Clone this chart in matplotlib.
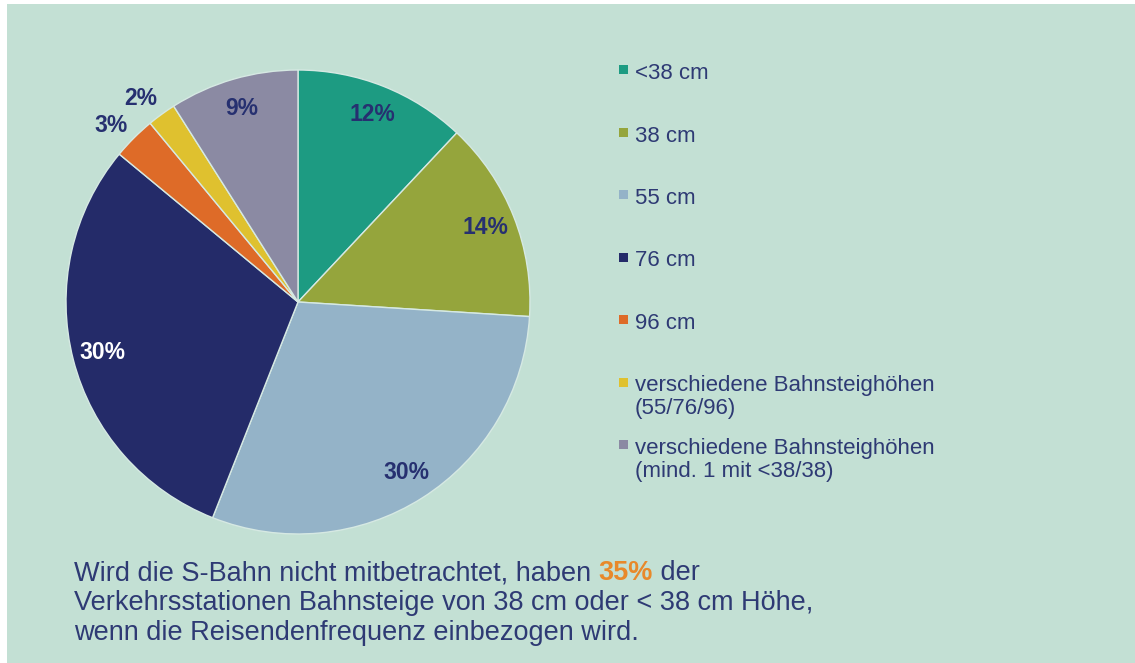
import matplotlib
matplotlib.use('Agg')
import matplotlib.pyplot as plt
import numpy as np
from matplotlib.patches import Rectangle

plt.rcParams['font.family'] = ['Liberation Sans', 'DejaVu Sans']

# platform heights, share of stations (%)
categories = [
    "<38 cm",
    "38 cm",
    "55 cm",
    "76 cm",
    "96 cm",
    "verschiedene Bahnsteighöhen\n(55/76/96)",
    "verschiedene Bahnsteighöhen\n(mind. 1 mit <38/38)",
]
shares = [12, 14, 30, 30, 3, 2, 9]
colors = ["#1d9b82", "#95a53c", "#94b3c8", "#242b69", "#de6b28", "#dfc12f", "#8b8aa3"]
label_colors = ["#263070", "#263070", "#263070", "white", "#263070", "#263070", "#263070"]

note_before = "Wird die S-Bahn nicht mitbetrachtet, haben "
note_highlight = "35%"
note_after = " der"
note_lines = ["Verkehrsstationen Bahnsteige von 38 cm oder < 38 cm Höhe,",
              "wenn die Reisendenfrequenz einbezogen wird."]

W, H = 1135, 663
BG = "#c3e0d4"
TEXT = "#2e3a74"

fig = plt.figure(figsize=(W / 100, H / 100), dpi=100)
fig.patch.set_facecolor("white")
fig.add_artist(Rectangle((7 / W, 0), 1, (H - 4) / H, transform=fig.transFigure,
                         facecolor=BG, edgecolor="none", zorder=-10))

# pie, centre at (298, 302) px from top, radius 232 px
cx, cy, r = 298, H - 302, 232
ax = fig.add_axes([(cx - r) / W, (cy - r) / H, 2 * r / W, 2 * r / H])
wedges, _ = ax.pie(shares, colors=colors, startangle=90, counterclock=False,
                   radius=1, wedgeprops=dict(edgecolor="#d6e9e3", linewidth=1))
ax.set_xlim(-1, 1)
ax.set_ylim(-1, 1)
ax.set_aspect("equal")
ax.axis("off")

for w, v, lc in zip(wedges, shares, label_colors):
    mid = np.deg2rad((w.theta1 + w.theta2) / 2)
    if v < 5:
        # small slices get their label outside, nudged a bit counter-clockwise
        mid += np.deg2rad(1.7)
        rr = 1.11
    else:
        rr = 0.87
    ax.text(rr * np.cos(mid), rr * np.sin(mid), f"{v}%", ha="center", va="center",
            fontsize=16.5, fontweight="bold", color=lc)

# legend entries
for i, (cat, col) in enumerate(zip(categories, colors)):
    base = 79 + 62.5 * i
    fig.add_artist(Rectangle((618.5 / W, (H - base + 5) / H), 9 / W, 9 / H,
                             transform=fig.transFigure, facecolor=col, edgecolor="none"))
    for j, line in enumerate(cat.split("\n")):
        fig.text(635 / W, (H - base - 22.5 * j) / H, line, fontsize=16,
                 color=TEXT, va="baseline", ha="left")

# note below the chart
renderer = fig.canvas.get_renderer()
y0 = (H - 580) / H
t1 = fig.text(74 / W, y0, note_before, fontsize=19.5, color=TEXT, va="baseline")
bb = t1.get_window_extent(renderer)
t2 = fig.text(bb.x1 / W, y0, note_highlight, fontsize=19.5, color="#e8892a",
              fontweight="bold", va="baseline")
bb = t2.get_window_extent(renderer)
fig.text(bb.x1 / W, y0, note_after, fontsize=19.5, color=TEXT, va="baseline")
for k, line in enumerate(note_lines):
    fig.text(74 / W, (H - 610 - 30 * k) / H, line, fontsize=19.5, color=TEXT,
             va="baseline")

fig.savefig("out.png", dpi=100, facecolor=fig.get_facecolor())
